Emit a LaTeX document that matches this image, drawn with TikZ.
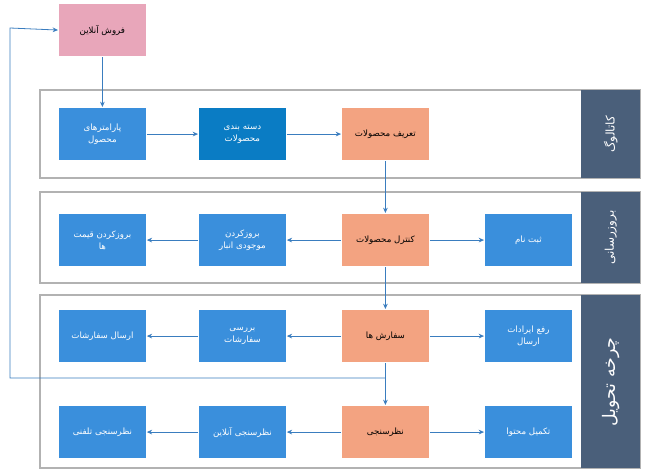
\documentclass[tikz,border=0pt]{standalone}
\usepackage{fontspec}
\newfontfamily\arfont[Script=Arabic]{DejaVu Sans}
\TeXXeTstate=1
\newcommand{\fa}[1]{{\arfont\beginR #1\endR}}
\usetikzlibrary{arrows.meta}
\definecolor{bl}{HTML}{3A8FDC}
\definecolor{dbl}{HTML}{0A7CC4}
\definecolor{org}{HTML}{F3A381}
\definecolor{pnk}{HTML}{E8A6BA}
\definecolor{slate}{HTML}{4A5F7A}
\definecolor{ln}{HTML}{3A7DBF}
\begin{document}
\begin{tikzpicture}[x=0.75pt,y=-0.75pt,
 box/.style={draw=white,line width=0.6pt,minimum width=66pt,minimum height=40pt,inner sep=1pt,align=center,font=\fontsize{6.5}{9}\selectfont,anchor=north west},
 b/.style={box,fill=bl,text=white}, o/.style={box,fill=org,text=black},
 panel/.style={draw=gray!60,line width=0.8pt},
 lab/.style={fill=slate,text=white,minimum width=44.25pt,anchor=north west,font=\fontsize{9}{11}\selectfont},
 ar/.style={draw=ln,line width=0.6pt,-{Stealth[length=4pt,width=3.5pt]}}]
\useasboundingbox (0,0) rectangle (645,470);
\draw[panel] (40,90) rectangle (640,178);
\draw[panel] (40,192) rectangle (640,283);
\draw[panel] (40,295) rectangle (640,468);
\node[lab,minimum height=66pt] (l1) at (581,90) {}; \node[rotate=90,text=white,font=\fontsize{9}{11}\selectfont] at (l1.center) {\fa{کاتالوگ}};
\node[lab,minimum height=68.25pt] (l2) at (581,192) {}; \node[rotate=90,text=white,font=\fontsize{9}{11}\selectfont] at (l2.center) {\fa{بروزرسانی}};
\node[lab,minimum height=129.75pt] (l3) at (581,295) {}; \node[rotate=90,text=white,font=\fontsize{13}{15}\selectfont] at (l3.center) {\fa{چرخه تحویل}};
\node[box,fill=pnk,text=black] (p) at (58,3) {\fa{فروش آنلاین}};
\node[b] (a1) at (58,107) {\fa{پارامترهای}\\\fa{محصول}};
\node[box,fill=dbl,text=white] (a2) at (198,107) {\fa{دسته بندی}\\\fa{محصولات}};
\node[o] (a3) at (341,107) {\fa{تعریف محصولات}};
\node[b] (b1) at (58,213) {\fa{بروزکردن قیمت}\\\fa{ها}};
\node[b] (b2) at (198,213) {\fa{بروزکردن}\\\fa{موجودی انبار}};
\node[o] (b3) at (341,213) {\fa{کنترل محصولات}};
\node[b] (b4) at (484,213) {\fa{ثبت نام}};
\node[b] (c1) at (58,309) {\fa{ارسال سفارشات}};
\node[b] (c2) at (198,309) {\fa{بررسی}\\\fa{سفارشات}};
\node[o] (c3) at (341,309) {\fa{سفارش ها}};
\node[b] (c4) at (484,309) {\fa{رفع ایرادات}\\\fa{ارسال}};
\node[b] (d1) at (58,405) {\fa{نظرسنجی تلفنی}};
\node[b] (d2) at (198,405) {\fa{نظرسنجی آنلاین}};
\node[o] (d3) at (341,405) {\fa{نظرسنجی}};
\node[b] (d4) at (484,405) {\fa{تکمیل محتوا}};
\draw[ar] (p) -- (a1);
\draw[ar] (a1) -- (a2); \draw[ar] (a2) -- (a3);
\draw[ar] (a3) -- (b3);
\draw[ar] (b3) -- (b2); \draw[ar] (b2) -- (b1); \draw[ar] (b3) -- (b4);
\draw[ar] (b3) -- (c3);
\draw[ar] (c3) -- (c2); \draw[ar] (c2) -- (c1); \draw[ar] (c3) -- (c4);
\draw[ar] (c3) -- (d3);
\coordinate (j) at (c3.south |- 0,378);
\draw[ar] (j) -- (10,378) -- (10,28) -- (p.west);
\draw[ar] (d3) -- (d2); \draw[ar] (d2) -- (d1); \draw[ar] (d3) -- (d4);
\end{tikzpicture}
\end{document}
